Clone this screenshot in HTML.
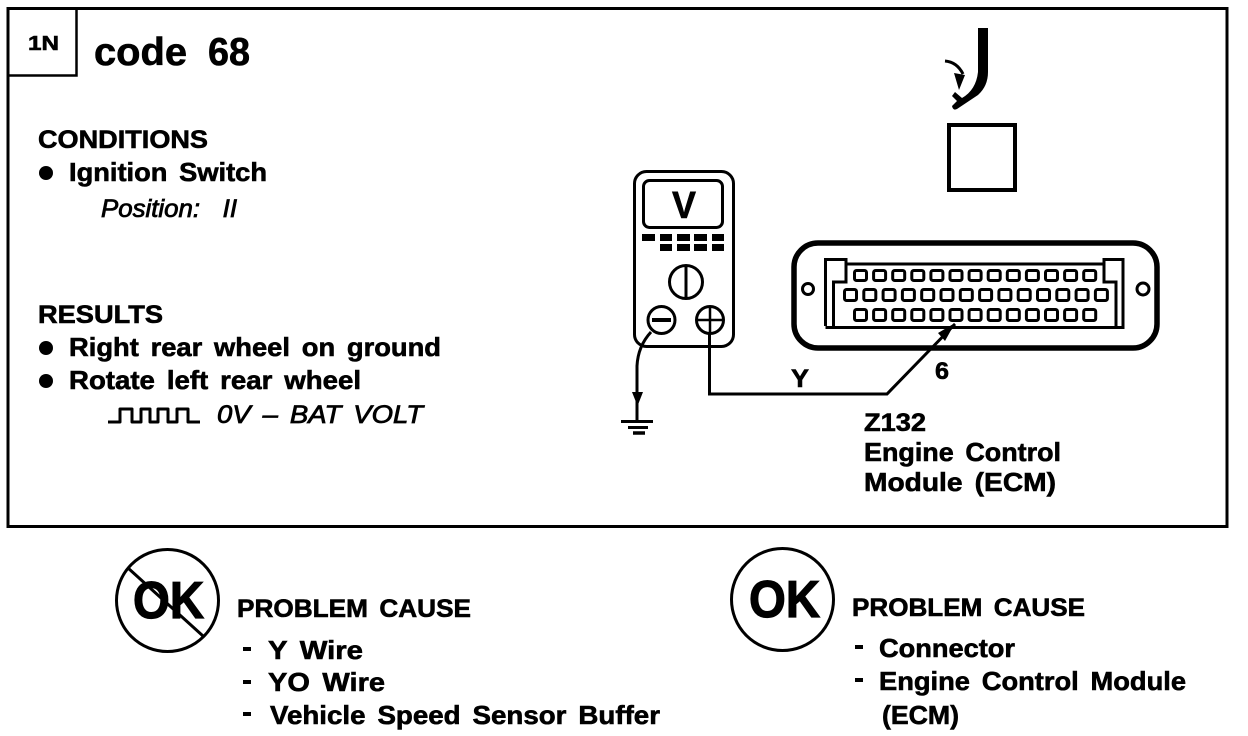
<!DOCTYPE html>
<html><head><meta charset="utf-8"><style>html,body{margin:0;padding:0;background:#fff}svg{display:block}text{font-family:"Liberation Sans",sans-serif;font-weight:700;fill:#000;stroke:#000;stroke-width:.6;word-spacing:4px;white-space:pre}.i{font-style:italic;font-weight:400;stroke-width:.8}.k{stroke-width:1.200}</style></head><body>
<svg width="1248" height="736" viewBox="0 0 1248 736" xmlns="http://www.w3.org/2000/svg">
<rect width="1248" height="736" fill="#fff"/>
<g fill="none" stroke="#000">
<rect x="8" y="8.500" width="1219" height="518" stroke-width="3"/>
<path d="M8 75.500H76.500V9" stroke-width="2.500"/>
<path d="M945 61Q957 62 963 74" stroke-width="3"/>
<rect x="949" y="125" width="66" height="65" stroke-width="4"/>
<rect x="634.500" y="171.500" width="99" height="175" rx="12" stroke-width="3"/>
<rect x="643.500" y="180.500" width="79" height="47" rx="6" stroke-width="3"/>
<circle cx="686" cy="282" r="16.500" stroke-width="3"/>
<path d="M686 265V299" stroke-width="3"/>
<circle cx="661.500" cy="320" r="13.500" stroke-width="3"/>
<circle cx="710" cy="320" r="13.500" stroke-width="3"/>
<path d="M652 320H671" stroke-width="4"/>
<path d="M710 306V334M697 320H723" stroke-width="2.500"/>
<path d="M651 332Q638 346 637 366V420" stroke-width="3"/>
<path d="M709.500 333V394H887L955 324" stroke-width="3"/>
<path d="M621 421.500H653" stroke-width="3"/>
<path d="M628 427.500H648" stroke-width="3"/>
<path d="M633 433H645" stroke-width="3.500"/>
<rect x="794" y="243" width="363" height="105" rx="24" stroke-width="5.500"/>
<circle cx="808" cy="289" r="5.500" stroke-width="3"/>
<circle cx="1143" cy="289" r="6" stroke-width="3"/>
<path d="M825.500 326V259.500H846V264H1104V259.500H1123V327.500H825.500M846 264V282H833.500V327M1104 264V282H1116V327" stroke-width="3"/>
<g stroke-width="3">
<rect x="854.500" y="270.500" width="12" height="10" rx="2"/><rect x="873.600" y="270.500" width="12" height="10" rx="2"/><rect x="892.700" y="270.500" width="12" height="10" rx="2"/><rect x="911.800" y="270.500" width="12" height="10" rx="2"/><rect x="930.900" y="270.500" width="12" height="10" rx="2"/><rect x="950" y="270.500" width="12" height="10" rx="2"/><rect x="969.100" y="270.500" width="12" height="10" rx="2"/><rect x="988.200" y="270.500" width="12" height="10" rx="2"/><rect x="1007.300" y="270.500" width="12" height="10" rx="2"/><rect x="1026.400" y="270.500" width="12" height="10" rx="2"/><rect x="1045.500" y="270.500" width="12" height="10" rx="2"/><rect x="1064.600" y="270.500" width="12" height="10" rx="2"/><rect x="1083.700" y="270.500" width="12" height="10" rx="2"/>
<rect x="844.500" y="289.500" width="12" height="11" rx="2"/><rect x="863.800" y="289.500" width="12" height="11" rx="2"/><rect x="883.100" y="289.500" width="12" height="11" rx="2"/><rect x="902.400" y="289.500" width="12" height="11" rx="2"/><rect x="921.700" y="289.500" width="12" height="11" rx="2"/><rect x="941" y="289.500" width="12" height="11" rx="2"/><rect x="960.300" y="289.500" width="12" height="11" rx="2"/><rect x="979.600" y="289.500" width="12" height="11" rx="2"/><rect x="998.900" y="289.500" width="12" height="11" rx="2"/><rect x="1018.200" y="289.500" width="12" height="11" rx="2"/><rect x="1037.500" y="289.500" width="12" height="11" rx="2"/><rect x="1056.800" y="289.500" width="12" height="11" rx="2"/><rect x="1076.100" y="289.500" width="12" height="11" rx="2"/><rect x="1095.400" y="289.500" width="12" height="11" rx="2"/>
<rect x="854.500" y="309.500" width="12" height="11" rx="2"/><rect x="873.600" y="309.500" width="12" height="11" rx="2"/><rect x="892.700" y="309.500" width="12" height="11" rx="2"/><rect x="911.800" y="309.500" width="12" height="11" rx="2"/><rect x="930.900" y="309.500" width="12" height="11" rx="2"/><rect x="950" y="309.500" width="12" height="11" rx="2"/><rect x="969.100" y="309.500" width="12" height="11" rx="2"/><rect x="988.200" y="309.500" width="12" height="11" rx="2"/><rect x="1007.300" y="309.500" width="12" height="11" rx="2"/><rect x="1026.400" y="309.500" width="12" height="11" rx="2"/><rect x="1045.500" y="309.500" width="12" height="11" rx="2"/><rect x="1064.600" y="309.500" width="12" height="11" rx="2"/><rect x="1083.700" y="309.500" width="12" height="11" rx="2"/>
</g>
<path d="M108 422H120V409H132V422H141V409H150V422H158V409H168V422H177V409H188V422H200" stroke-width="3" stroke-linejoin="round"/>
<circle cx="167.500" cy="600.500" r="51" stroke-width="3"/>
<circle cx="782.500" cy="599.500" r="51" stroke-width="3"/>
<path d="M128 568L203 636" stroke-width="3"/>
</g>
<path d="M978 28H988V72Q988 86 978 95L957 109Q953 111 952 106L957 101L952 96L955 92L962 98Q976 90 978 72Z"/>
<path d="M954 73L965 75L959 90ZM632 392H643L637.500 406ZM955 323L938 333L945 341Z"/>
<rect x="642" y="234" width="13" height="7"/><rect x="660" y="234" width="12" height="7"/><rect x="677" y="234" width="13" height="7"/><rect x="694" y="234" width="13" height="7"/><rect x="712" y="234" width="12" height="7"/><rect x="660" y="244" width="12" height="7"/><rect x="677" y="244" width="13" height="7"/><rect x="694" y="244" width="13" height="7"/><rect x="712" y="244" width="12" height="7"/>
<circle cx="46" cy="173" r="7"/><circle cx="46" cy="348" r="7"/><circle cx="46" cy="381" r="7"/>
<path d="M243 647h8v4h-8zM243 680h8v4h-8zM243 712h8v4h-8zM855 645h8v4h-8zM855 678h8v4h-8z"/>
<text x="28" y="50" font-size="20" textLength="31" lengthAdjust="spacingAndGlyphs">1N</text>
<text x="94" y="65" font-size="39" textLength="93" lengthAdjust="spacingAndGlyphs">code</text>
<text x="208" y="65" font-size="39" textLength="42" lengthAdjust="spacingAndGlyphs">68</text>
<text x="38" y="148" font-size="25" textLength="170" lengthAdjust="spacingAndGlyphs">CONDITIONS</text>
<text x="69" y="181" font-size="26" textLength="198" lengthAdjust="spacingAndGlyphs">Ignition Switch</text>
<text class="i" x="101" y="217" font-size="25" textLength="136" lengthAdjust="spacingAndGlyphs">Position:  II</text>
<text x="38" y="323" font-size="25" textLength="125" lengthAdjust="spacingAndGlyphs">RESULTS</text>
<text x="69" y="356" font-size="26" textLength="372" lengthAdjust="spacingAndGlyphs">Right rear wheel on ground</text>
<text x="69" y="389" font-size="26" textLength="292" lengthAdjust="spacingAndGlyphs">Rotate left rear wheel</text>
<text class="i" x="217" y="423" font-size="25" textLength="206" lengthAdjust="spacingAndGlyphs">0V – BAT VOLT</text>
<text x="672" y="218" font-size="38" textLength="24" lengthAdjust="spacingAndGlyphs">V</text>
<text x="791" y="387" font-size="25" textLength="18" lengthAdjust="spacingAndGlyphs">Y</text>
<text x="935" y="379" font-size="24" textLength="14" lengthAdjust="spacingAndGlyphs">6</text>
<text x="864" y="431" font-size="25" textLength="62" lengthAdjust="spacingAndGlyphs">Z132</text>
<text x="864" y="461" font-size="26" textLength="197" lengthAdjust="spacingAndGlyphs">Engine Control</text>
<text x="864" y="491" font-size="26" textLength="192" lengthAdjust="spacingAndGlyphs">Module (ECM)</text>
<text class="k" x="133" y="618" font-size="52" textLength="71" lengthAdjust="spacingAndGlyphs">OK</text>
<text class="k" x="749" y="617" font-size="52" textLength="71" lengthAdjust="spacingAndGlyphs">OK</text>
<text x="237" y="617" font-size="25" textLength="234" lengthAdjust="spacingAndGlyphs">PROBLEM CAUSE</text>
<text x="268" y="659" font-size="26" textLength="95" lengthAdjust="spacingAndGlyphs">Y Wire</text>
<text x="268" y="691" font-size="26" textLength="117" lengthAdjust="spacingAndGlyphs">YO Wire</text>
<text x="270" y="724" font-size="26" textLength="390" lengthAdjust="spacingAndGlyphs">Vehicle Speed Sensor Buffer</text>
<text x="852" y="616" font-size="25" textLength="233" lengthAdjust="spacingAndGlyphs">PROBLEM CAUSE</text>
<text x="879" y="657" font-size="26" textLength="136" lengthAdjust="spacingAndGlyphs">Connector</text>
<text x="879" y="690" font-size="26" textLength="307" lengthAdjust="spacingAndGlyphs">Engine Control Module</text>
<text x="882" y="724" font-size="26" textLength="77" lengthAdjust="spacingAndGlyphs">(ECM)</text>
</svg></body></html>
